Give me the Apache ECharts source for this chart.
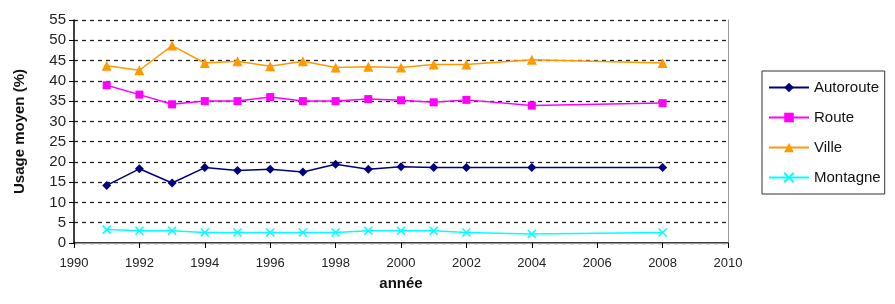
<!DOCTYPE html>
<html><head><meta charset="utf-8">
<script src="https://cdn.jsdelivr.net/npm/echarts@6/dist/echarts.min.js"></script>
<style>html,body{margin:0;padding:0;background:#fff}#c{width:895px;height:304px}</style>
</head><body><div id="c"></div>
<script>
const years = [1991,1992,1993,1994,1995,1996,1997,1998,1999,2000,2001,2002,2004,2008];
const autoroute = [14.2,18.3,14.8,18.6,17.9,18.2,17.5,19.4,18.2,18.8,18.6,18.6,18.6,18.6];
const route = [38.9,36.6,34.2,35.0,35.0,36.0,35.0,35.0,35.5,35.2,34.7,35.3,33.9,34.5];
const ville = [43.7,42.6,48.7,44.4,44.8,43.6,44.8,43.3,43.5,43.3,44.0,44.0,45.2,44.4];
const montagne = [3.3,3.0,3.0,2.6,2.6,2.6,2.6,2.6,3.0,3.0,3.0,2.6,2.2,2.6];
const xTicks = [1990,2010,2];
const yTicks = [0,55,5];

const font = '"Liberation Sans", Arial, sans-serif';
function pairs(vals){ return years.map((y,i)=>[y,vals[i]]); }
function mk(name, vals, color, symbol, size){
  return {name, type:'line', data:pairs(vals), symbol, symbolSize:size,
    lineStyle:{color, width:1.5}, itemStyle:{color, borderColor:color, borderWidth: symbol.startsWith('path')?1.5:0},
    emphasis:{disabled:true}, animation:false, z:3};
}
const chart = echarts.init(document.getElementById('c'));
chart.setOption({
  animation:false,
  textStyle:{fontFamily:font},
  grid:{left:74, right:167, top:20, bottom:61},
  legend:{
    left:762, top:71, orient:'vertical', itemGap:15, itemWidth:40, itemHeight:12,
    borderColor:'#333', borderWidth:1, padding:[9,4,9,6],
    textStyle:{fontSize:15, color:'#111', fontFamily:font},
    data:['Autoroute','Route','Ville','Montagne']
  },
  xAxis:[{
    type:'value', min:xTicks[0], max:xTicks[1], interval:xTicks[2],
    name:'année', nameLocation:'middle', nameGap:33,
    nameTextStyle:{fontSize:15, fontWeight:'bold', color:'#111', fontFamily:font},
    axisLine:{lineStyle:{color:'#000', width:1.5}},
    axisTick:{show:true, inside:false, length:5, lineStyle:{color:'#000'}},
    axisLabel:{fontSize:13, color:'#222', margin:14, formatter:v=>String(v)},
    splitLine:{show:false}
  },{
    type:'value', position:'top', min:xTicks[0], max:xTicks[1], interval:xTicks[2],
    axisLine:{show:true, lineStyle:{color:'#999', width:1}},
    axisTick:{show:false}, axisLabel:{show:false}, splitLine:{show:false}
  }],
  yAxis:[{
    type:'value', min:yTicks[0], max:yTicks[1], interval:yTicks[2],
    name:'Usage moyen (%)', nameLocation:'middle', nameGap:47, nameRotate:90,
    nameTextStyle:{fontSize:15, fontWeight:'bold', color:'#111', fontFamily:font},
    axisLine:{show:true, lineStyle:{color:'#000', width:1.5}},
    axisTick:{show:true, length:5, lineStyle:{color:'#000'}},
    axisLabel:{fontSize:15, color:'#222', margin:8},
    splitLine:{show:true, lineStyle:{color:'#222', type:[4,4], width:1.3}}
  },{
    type:'value', position:'right', min:yTicks[0], max:yTicks[1], interval:yTicks[2],
    axisLine:{show:true, lineStyle:{color:'#999', width:1}},
    axisTick:{show:false}, axisLabel:{show:false}, splitLine:{show:false}
  }],
  series:[
    mk('Autoroute', autoroute, '#000080', 'diamond', 9),
    mk('Route', route, '#FF00FF', 'rect', 8),
    mk('Ville', ville, '#FF9900', 'triangle', 10),
    mk('Montagne', montagne, '#00FFFF', 'path://M0,0L10,10M10,0L0,10', 8)
  ]
});
</script></body></html>
